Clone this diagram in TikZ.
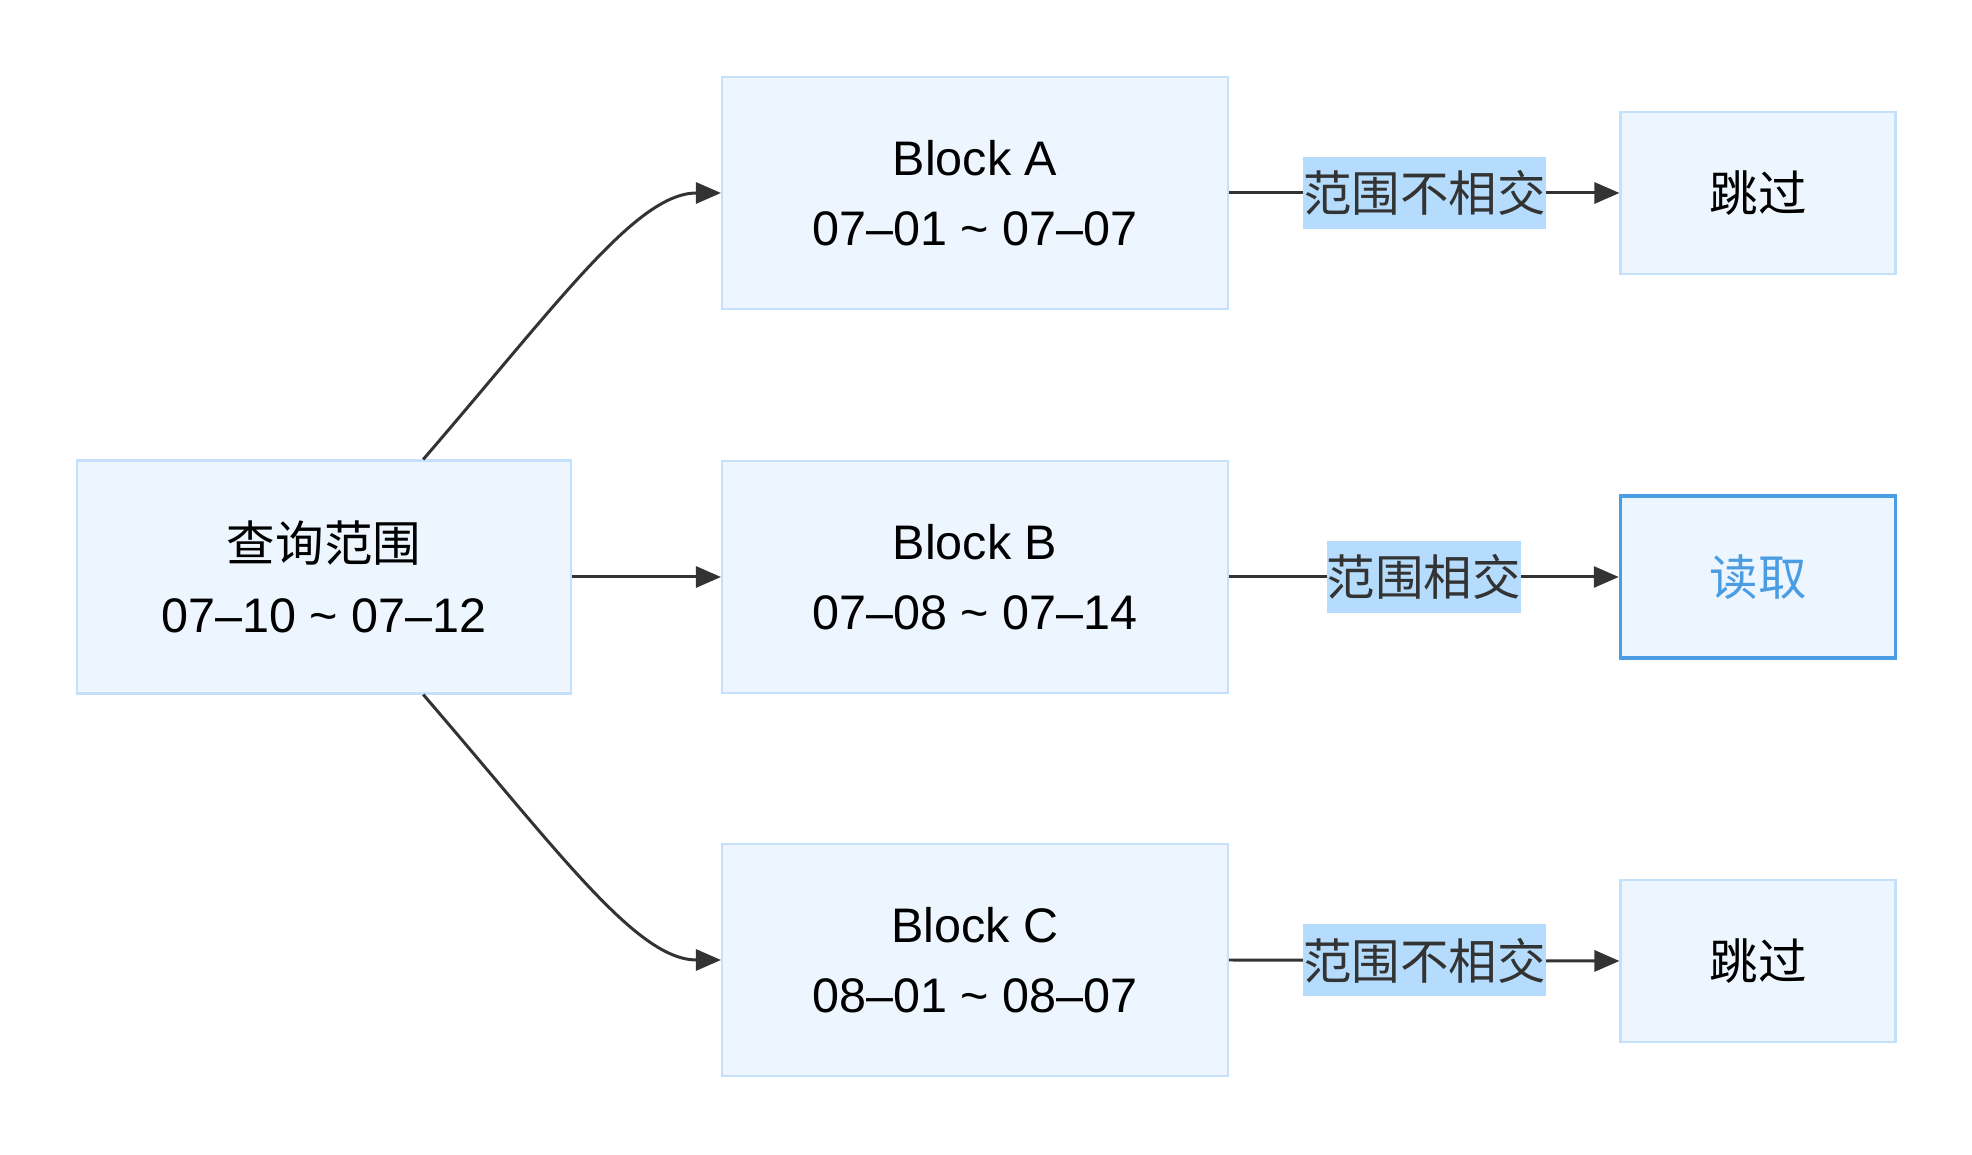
\documentclass[tikz,border=0pt]{standalone}
\usepackage{fontspec}
\usepackage{xcolor}
\usepackage{tikz}
\usetikzlibrary{arrows.meta,calc}
\setmainfont{Liberation Sans}
\newfontfamily\cjk{Noto Sans CJK SC}
\definecolor{QRFill}{HTML}{EDF5FE}
\definecolor{QRLine}{HTML}{C5E0FB}
\definecolor{QRTag}{HTML}{B5DCFD}
\definecolor{QRBlue}{HTML}{4A9DE2}
\definecolor{QRInk}{HTML}{333333}

\begin{document}
\begin{tikzpicture}[x=1cm,y=1cm,
  box/.style={draw=QRLine,fill=QRFill,line width=.6pt,align=center,inner sep=0pt,
    font=\fontsize{13.8}{20}\selectfont},
  blockbox/.style={box,minimum width=5.06cm,minimum height=2.32cm},
  endbox/.style={box,minimum width=2.75cm,minimum height=1.62cm,font=\cjk\fontsize{13.8}{20}\selectfont},
  tag/.style={fill=QRTag,text=QRInk,inner xsep=0pt,inner ysep=0pt,minimum height=.72cm,
    font=\cjk\fontsize{13.8}{16}\selectfont},
  link/.style={QRInk,line width=.85pt,-{Triangle[length=.25cm,width=.21cm]}}]
\path[use as bounding box] (0,0) rectangle (19.72,11.55);
\fill[white] (0,0) rectangle (19.72,11.55);
\node[box,minimum width=4.94cm,minimum height=2.33cm] (query) at (3.24,5.78)
  {{\cjk 查询范围}\\07–10 \textasciitilde{} 07–12};
\node[blockbox] (blockA) at (9.75,9.62) {Block A\\07–01 \textasciitilde{} 07–07};
\node[blockbox] (blockB) at (9.75,5.78) {Block B\\07–08 \textasciitilde{} 07–14};
\node[blockbox] (blockC) at (9.75,1.95) {Block C\\08–01 \textasciitilde{} 08–07};
\node[endbox] (skipA) at (17.58,9.62) {跳过};
\node[endbox,draw=QRBlue,line width=1pt,text=QRBlue] (read) at (17.58,5.78) {读取};
\node[endbox] (skipC) at (17.58,1.94) {跳过};
\coordinate (qtop) at ($(query.north west)!.7!(query.north east)$);
\coordinate (qbot) at ($(query.south west)!.7!(query.south east)$);
\draw[link] (qtop) .. controls +(1.37,1.59) and +(-.84,0) .. (blockA.west);
\draw[link] (query.east) -- (blockB.west);
\draw[link] (qbot) .. controls +(1.37,-1.59) and +(-.84,0) .. (blockC.west);
\draw[link] (blockA.east) -- node[tag] {范围不相交} (skipA.west);
\draw[link] (blockB.east) -- node[tag] {范围相交} (read.west);
\draw[link] (blockC.east) -- node[tag] {范围不相交} (skipC.west);
\end{tikzpicture}
\end{document}
